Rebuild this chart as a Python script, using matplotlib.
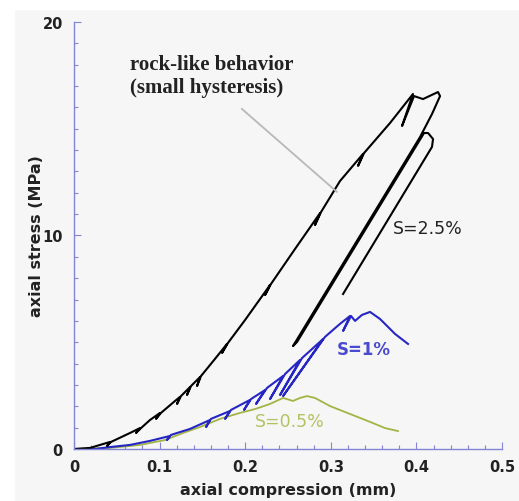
import numpy as np
import matplotlib
matplotlib.use('Agg')
import matplotlib.pyplot as plt
from matplotlib.patches import Rectangle
from matplotlib.ticker import MultipleLocator

# S=2.5% (loading with small loops, peak, unload/reload, final unload)
s25_x = [0, 0.0187, 0.0421, 0.0386, 0.0432, 0.0654, 0.0771, 0.0724, 0.0783, 0.0888,
         0.1005, 0.0958, 0.1016, 0.1180, 0.1238, 0.1203, 0.1250, 0.1355, 0.1320, 0.1367,
         0.1472, 0.1437, 0.1484, 0.1647, 0.1787, 0.1729, 0.1799, 0.1998, 0.2290, 0.2231,
         0.2301, 0.2582, 0.2874, 0.2815, 0.2886, 0.3107, 0.3376, 0.3318, 0.3388, 0.3692,
         0.3960, 0.3832, 0.3972, 0.4077, 0.4252, 0.4276, 0.4182, 0.4042, 0.2558, 0.2605,
         0.4089, 0.4136, 0.4194, 0.4182, 0.3143]
s25_y = [0, 0.05, 0.33, 0.14, 0.33, 0.75, 0.98, 0.75, 0.98, 1.36,
         1.69, 1.41, 1.69, 2.25, 2.44, 2.11, 2.48, 2.90, 2.53, 2.95,
         3.37, 2.95, 3.42, 4.22, 4.92, 4.50, 4.97, 6.04, 7.68, 7.21,
         7.73, 9.37, 11.05, 10.49, 11.10, 12.55, 13.82, 13.26, 13.86, 15.27,
         16.63, 15.13, 16.53, 16.39, 16.72, 16.53, 15.69, 14.61, 4.82, 5.01,
         14.80, 14.80, 14.52, 14.15, 7.26]

# S=1%
s1_x = [0, 0.0245, 0.0421, 0.0654, 0.0888, 0.1121, 0.1086, 0.1133, 0.1355, 0.1589,
        0.1542, 0.1600, 0.1822, 0.1764, 0.1834, 0.2056, 0.1986, 0.2068, 0.2231, 0.2126,
        0.2255, 0.2442, 0.2290, 0.2465, 0.2640, 0.2407, 0.2664, 0.2909, 0.2442, 0.2932,
        0.3107, 0.3224, 0.3143, 0.3236, 0.3283, 0.3364, 0.3458, 0.3575, 0.3750, 0.3902]
s1_y = [0, 0, 0.09, 0.19, 0.38, 0.61, 0.42, 0.66, 0.94, 1.36,
        1.03, 1.41, 1.78, 1.41, 1.83, 2.30, 1.83, 2.34, 2.76, 2.11,
        2.86, 3.42, 2.34, 3.51, 4.17, 2.53, 4.26, 5.15, 2.48, 5.25,
        5.86, 6.23, 5.53, 6.23, 6.00, 6.28, 6.42, 6.09, 5.39, 4.92]

# S=0.5%
s05_x = [0, 0.0421, 0.0771, 0.1063, 0.1273, 0.1472, 0.1706, 0.1939, 0.2114, 0.2290,
         0.2442, 0.2558, 0.2640, 0.2722, 0.2815, 0.2991, 0.3224, 0.3458, 0.3633, 0.3785]
s05_y = [0, 0.05, 0.19, 0.42, 0.75, 1.03, 1.41, 1.69, 1.87, 2.11,
         2.39, 2.25, 2.39, 2.48, 2.39, 2.01, 1.64, 1.27, 0.98, 0.84]

axis_col = '#8585d8'
blue = '#2626c4'
green = '#a3b445'

fig = plt.figure(figsize=(5.19, 5.02), dpi=100, facecolor='#f6f6f6')
fig.patches.append(Rectangle((0, 1 - 10/502), 1, 10/502, transform=fig.transFigure,
                             color='white', zorder=0))
fig.patches.append(Rectangle((0, 0), 14/519, 1, transform=fig.transFigure,
                             color='white', zorder=0))

ax = fig.add_axes([0.1426, 0.1036, 0.8247, 0.8506])
ax.patch.set_alpha(0)

ax.plot(s05_x, s05_y, color=green, lw=1.3)
ax.plot(s1_x, s1_y, color=blue, lw=1.5)
ax.plot(s25_x, s25_y, color='black', lw=1.5)

# annotation for the small hysteresis
ax.annotate('rock-like behavior\n(small hysteresis)', xy=(0.3072, 12.04), xytext=(0.0654, 17.5),
            fontsize=15, fontweight='bold', family='Liberation Serif', ha='left', va='center',
            linespacing=1.2, color='#222222',
            arrowprops=dict(arrowstyle='-', color='#b8b8b8', lw=1.3, shrinkA=10, shrinkB=0,
                            relpos=(0.6, 0.0)))

ax.text(0.372, 10.35, 'S=2.5%', fontsize=12.5, color='#222222', ha='left', va='center')
ax.text(0.307, 4.7, 'S=1%', fontsize=12, color='#4a4ad0', fontweight='bold', ha='left', va='center')
ax.text(0.211, 1.3, 'S=0.5%', fontsize=12.5, color='#b5c260', ha='left', va='center')

ax.set_xlim(0, 0.5)
ax.set_ylim(0, 20)
ax.set_xticks([0, 0.1, 0.2, 0.3, 0.4, 0.5])
ax.set_xticklabels(['0', '0.1', '0.2', '0.3', '0.4', '0.5'])
ax.set_yticks([0, 10, 20])
ax.xaxis.set_minor_locator(MultipleLocator(0.02))
ax.yaxis.set_minor_locator(MultipleLocator(1))

for s in ['top', 'right']:
    ax.spines[s].set_visible(False)
for s in ['left', 'bottom']:
    ax.spines[s].set_color(axis_col)
    ax.spines[s].set_linewidth(1.0)

ax.tick_params(which='both', direction='in', color=axis_col, width=0.8)
ax.tick_params(which='major', length=5)
ax.tick_params(which='minor', length=3)
ax.tick_params(axis='x', which='major', pad=7, labelsize=10.5)
ax.tick_params(axis='y', which='major', pad=8, labelsize=10.5)
for lab in ax.get_xticklabels() + ax.get_yticklabels():
    lab.set_fontweight('bold')
    lab.set_color('#222222')

ax.set_xlabel('axial compression (mm)', fontsize=11.5, fontweight='bold', color='#222222', labelpad=6)
ax.set_ylabel('axial stress (MPa)', fontsize=11.5, fontweight='bold', color='#222222', labelpad=-1)

fig.savefig('out.png', dpi=100, facecolor=fig.get_facecolor())
